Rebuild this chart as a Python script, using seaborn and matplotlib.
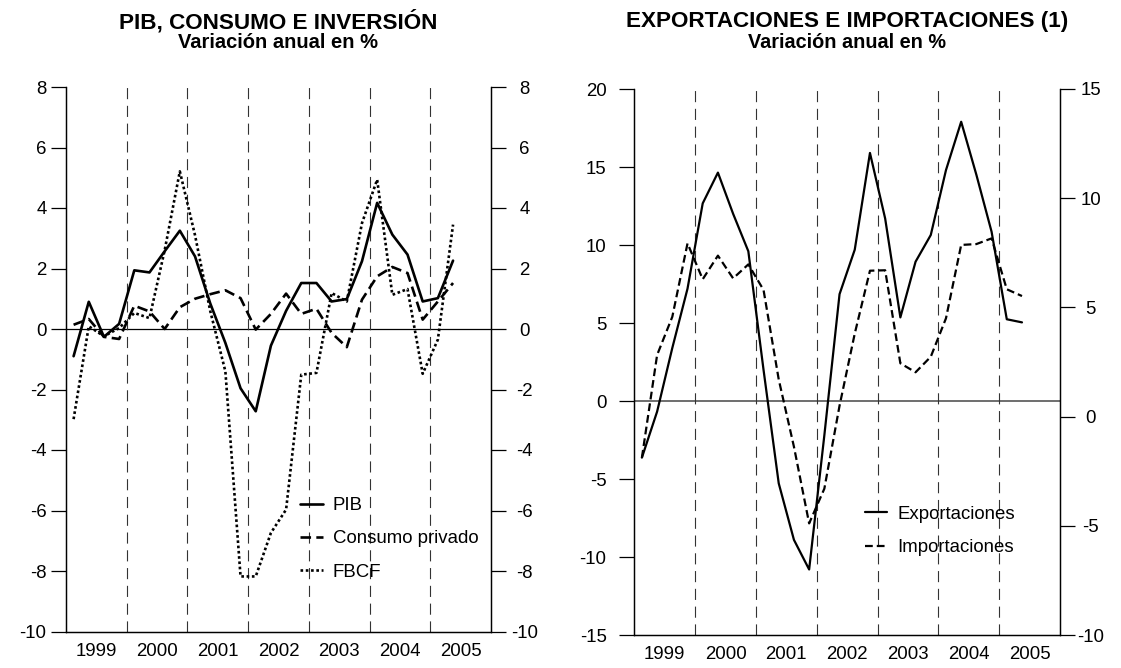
import numpy as np
import pandas as pd
import matplotlib.pyplot as plt
import seaborn as sns

# trimestres 1999T1 ... 2005T2 (26 datos), eje x en trimestres desde 1999T1
anios = ["1999", "2000", "2001", "2002", "2003", "2004", "2005"]
n_trim = 26

# PIB, consumo e inversion - variacion anual en %
pib = [-0.9, 0.9, -0.26, 0.17, 1.94, 1.87, 2.57, 3.25, 2.4, 0.85, -0.46, -1.96, -2.72,
       -0.55, 0.6, 1.52, 1.52, 0.91, 0.99, 2.24, 4.17, 3.12, 2.46, 0.91, 1.02, 2.26]
consumo = [0.14, 0.33, -0.26, -0.33, 0.77, 0.58, 0.0, 0.72, 1.0, 1.15, 1.28, 1.02, -0.02,
           0.5, 1.17, 0.5, 0.67, -0.13, -0.6, 0.97, 1.74, 2.05, 1.85, 0.31, 0.91, 1.52]
fbcf = [-2.98, 0.09, -0.24, 0.03, 0.53, 0.36, 2.6, 5.21, 3.1, 0.6, -1.4, -8.18, -8.18,
        -6.74, -5.97, -1.51, -1.45, 1.19, 0.91, 3.5, 4.94, 1.13, 1.32, -1.48, -0.35, 3.45]

# exportaciones (eje izq.) e importaciones (eje der.)
exportaciones = [-3.63, -0.68, 3.4, 7.2, 12.67, 14.64, 12.0, 9.6, 2.0, -5.28, -8.9, -10.8, -2.2,
                 6.85, 9.7, 15.9, 11.7, 5.36, 8.93, 10.64, 14.8, 17.9, 14.5, 10.85, 5.24, 5.04]
importaciones = [-1.88, 2.82, 4.57, 7.93, 6.29, 7.37, 6.33, 6.97, 5.8, 1.7, -1.38, -4.89, -3.3,
                 0.5, 3.8, 6.68, 6.7, 2.44, 2.03, 2.74, 4.5, 7.86, 7.9, 8.16, 5.83, 5.52]

t = np.arange(n_trim) + 0.5  # cada dato centrado en su trimestre

sns.set_theme(style="ticks")
plt.rcParams["font.family"] = ["Liberation Sans", "DejaVu Sans"]
plt.rcParams["axes.unicode_minus"] = False
plt.rcParams["text.color"] = "black"

fig = plt.figure(figsize=(11.21, 6.68), dpi=100)
W, H = 1121, 668
ax1 = fig.add_axes([66 / W, 36.5 / H, 425 / W, 544.5 / H])
ax2 = fig.add_axes([634.3 / W, 33 / H, 425.7 / W, 546 / H])
FS = 13.4


def marco(ax, axd, ylim, ylim_d, paso, pad_izq, pad_der):
    # lineas verticales de cada año y eje x con los años
    for b in range(4, 28, 4):
        ax.axvline(b, color="#333333", lw=0.8, ls=(0, (10, 6)), zorder=1)
    ax.set_xlim(0, 28)
    ax.set_xticks(np.arange(2, 28, 4))
    ax.set_xticklabels(anios)
    ax.set_ylim(*ylim)
    ax.set_yticks(np.arange(ylim[0], ylim[1] + 1, paso))
    axd.set_ylim(*ylim_d)
    axd.set_yticks(np.arange(ylim_d[0], ylim_d[1] + 1, paso))
    ax.tick_params(axis="x", length=0, pad=8, labelsize=FS, colors="black")
    ax.tick_params(axis="y", direction="out", length=11, width=0.9, pad=pad_izq,
                   labelsize=FS, colors="black")
    axd.tick_params(axis="y", direction="out", length=11, width=0.9, pad=pad_der,
                    labelsize=FS, colors="black")
    for lbl in axd.get_yticklabels():
        lbl.set_horizontalalignment("center")
    for a in (ax, axd):
        a.spines["top"].set_visible(False)
        for s in ("left", "right", "bottom"):
            a.spines[s].set_color("black")
            a.spines[s].set_linewidth(0.9)
        a.set_xlabel("")
        a.set_ylabel("")
        a.grid(False)


def titulo(ax, linea1, linea2, fs1, fs2):
    pos = ax.get_position()
    cx = (pos.x0 + pos.x1) / 2
    fig.text(cx, 1 - 22 / H, linea1, ha="center", va="center", fontsize=fs1,
             fontweight="bold", color="black")
    fig.text(cx, 1 - 43 / H, linea2, ha="center", va="center", fontsize=fs2,
             fontweight="bold", color="black")


# panel izquierdo
df1 = pd.DataFrame({"t": t, "PIB": pib, "Consumo privado": consumo, "FBCF": fbcf})
df1 = df1.melt("t", var_name="serie", value_name="valor")
ax1.axhline(0, color="black", lw=0.9, zorder=1)
sns.lineplot(data=df1, x="t", y="valor", style="serie", color="black", linewidth=1.9,
             dashes={"PIB": "", "Consumo privado": (4, 2), "FBCF": (1, 1)},
             ax=ax1, zorder=3)
ax1d = ax1.twinx()
marco(ax1, ax1d, (-10, 8), (-10, 8), 2, 3, 13)
h, l = ax1.get_legend_handles_labels()
ax1.legend(h, l, loc="upper left", bbox_to_anchor=(0.551, 0.247), frameon=False,
           fontsize=FS, borderpad=0, borderaxespad=0, handlelength=1.2,
           handletextpad=0.55, labelspacing=0.88, labelcolor="black")
titulo(ax1, "PIB, CONSUMO E INVERSIÓN", "Variación anual en %", 16.2, 14.5)

# panel derecho
ax2.axhline(0, color="#555555", lw=1.2, zorder=1)
sns.lineplot(x=t, y=exportaciones, color="black", linewidth=1.6, ax=ax2,
             label="Exportaciones", zorder=3)
ax2d = ax2.twinx()
sns.lineplot(x=t, y=importaciones, color="black", linewidth=1.6, ls=(0, (3.5, 1.8)),
             ax=ax2d, label="Importaciones", zorder=3)
marco(ax2, ax2d, (-15, 20), (-10, 15), 5, 9, 11)
h1, l1 = ax2.get_legend_handles_labels()
h2, l2 = ax2d.get_legend_handles_labels()
if ax2.get_legend():
    ax2.get_legend().remove()
ax2d.legend(h1 + h2, l1 + l2, loc="upper left", bbox_to_anchor=(0.542, 0.237), frameon=False,
            fontsize=FS, borderpad=0, borderaxespad=0, handlelength=1.2,
            handletextpad=0.55, labelspacing=0.88, labelcolor="black")
titulo(ax2, "EXPORTACIONES E IMPORTACIONES (1)", "Variación anual en %", 16.2, 14.3)

fig.savefig("out.png", dpi=100)
